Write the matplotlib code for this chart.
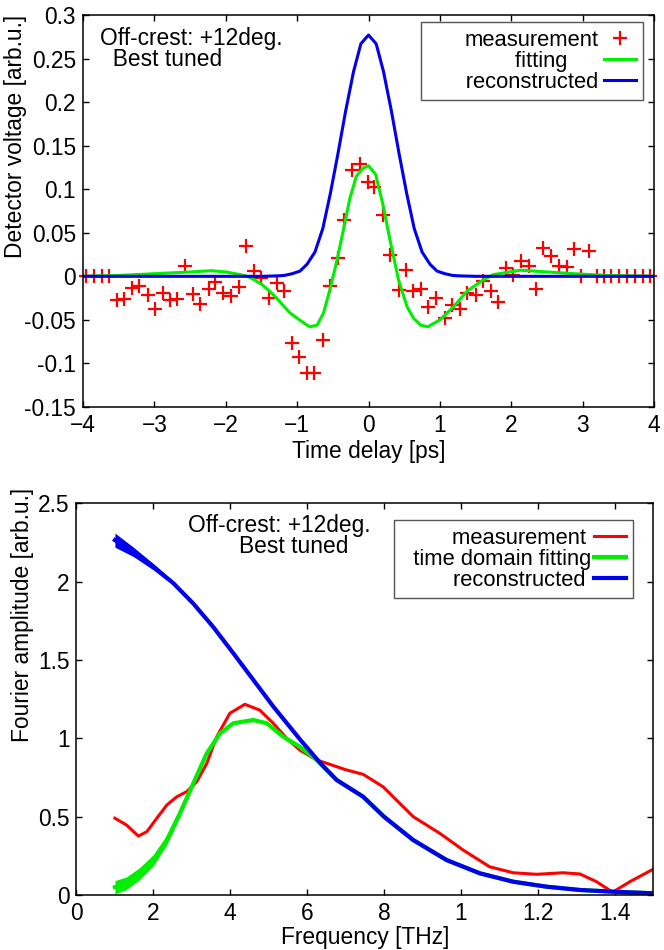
import numpy as np
import matplotlib
matplotlib.use("Agg")
import matplotlib.pyplot as plt

plt.rcParams['font.family'] = ['Liberation Sans', 'DejaVu Sans']
plt.rcParams['font.size'] = 16.4

# ---- top panel: time domain ----
t_meas = [-3.96, -3.85, -3.74, -3.63, -3.53, -3.43, -3.31, -3.21, -3.09, -2.99,
          -2.88, -2.78, -2.68, -2.57, -2.46, -2.36, -2.24, -2.15, -2.04, -1.93,
          -1.82, -1.71, -1.61, -1.51, -1.40, -1.28, -1.18, -1.07, -0.97, -0.86,
          -0.76, -0.64, -0.54, -0.43, -0.34, -0.23, -0.12, -0.01, 0.08, 0.20,
          0.30, 0.43, 0.53, 0.63, 0.73, 0.84, 0.95, 1.07, 1.17, 1.28,
          1.38, 1.50, 1.61, 1.71, 1.82, 1.92, 2.03, 2.14, 2.25, 2.35,
          2.45, 2.56, 2.67, 2.78, 2.88, 2.98, 3.09, 3.20, 3.30, 3.40,
          3.51, 3.62, 3.73, 3.84, 3.94]
v_meas = [0.0, 0.0, 0.0, 0.0, -0.027, -0.026, -0.0135, -0.011, -0.022, -0.037,
          -0.019, -0.027, -0.026, 0.012, -0.020, -0.032, -0.015, -0.006, -0.019, -0.023,
          -0.012, 0.035, 0.006, -0.002, -0.025, -0.008, -0.017, -0.077, -0.093, -0.111,
          -0.111, -0.073, -0.011, 0.021, 0.065, 0.122, 0.129, 0.108, 0.103, 0.070,
          0.024, -0.016, 0.007, -0.017, -0.015, -0.035, -0.025, -0.048, -0.033, -0.038,
          -0.019, -0.022, -0.005, -0.017, -0.030, 0.010, 0.002, 0.018, 0.012, -0.015,
          0.033, 0.023, 0.012, 0.011, 0.031, 0.0, 0.029, 0.0, 0.0, 0.0,
          0.0, 0.0, 0.0, 0.0, 0.0]

t_fit = [-4.0, -3.5, -3.0, -2.5, -2.2, -2.0, -1.8, -1.7, -1.6, -1.5, -1.4, -1.3,
         -1.2, -1.1, -1.0, -0.9, -0.82, -0.72, -0.63, -0.54, -0.44, -0.33, -0.26,
         -0.17, -0.08, 0.0, 0.1, 0.2, 0.3, 0.42, 0.54, 0.63, 0.73, 0.83, 1.0,
         1.19, 1.38, 1.61, 1.75, 2.13, 2.32, 2.88, 3.35, 4.0]
v_fit = [0.0, 0.001, 0.003, 0.005, 0.0065, 0.005, 0.002, 0.0, -0.004, -0.009, -0.016, -0.024,
         -0.033, -0.042, -0.048, -0.054, -0.058, -0.056, -0.042, -0.015, 0.019, 0.062, 0.090,
         0.115, 0.124, 0.127, 0.117, 0.083, 0.042, -0.004, -0.035, -0.048, -0.056, -0.058, -0.050,
         -0.035, -0.017, -0.004, 0.002, 0.007, 0.006, 0.003, 0.001, 0.0]

t_rec = [-4.0, -1.5, -1.28, -1.18, -1.07, -0.96, -0.86, -0.75, -0.64, -0.535, -0.43,
         -0.32, -0.21, -0.107, 0.0, 0.107, 0.21, 0.32, 0.43, 0.535, 0.64, 0.75,
         0.86, 0.96, 1.07, 1.18, 1.28, 1.5, 4.0]
v_rec = [0.0, 0.0, 0.0005, 0.001, 0.003, 0.006, 0.014, 0.028, 0.055, 0.095, 0.14,
         0.19, 0.235, 0.267, 0.277, 0.267, 0.235, 0.19, 0.14, 0.095, 0.055, 0.028,
         0.014, 0.006, 0.003, 0.001, 0.0005, 0.0, 0.0]

# ---- bottom panel: frequency domain ----
f_meas = [0.10, 0.13, 0.161, 0.183, 0.209, 0.235, 0.261, 0.287, 0.313, 0.339,
          0.365, 0.399, 0.438, 0.477, 0.512, 0.547, 0.581, 0.625, 0.677, 0.70,
          0.746, 0.798, 0.876, 0.945, 1.006, 1.075, 1.136, 1.197, 1.266, 1.31,
          1.353, 1.395, 1.44, 1.50]
a_meas = [0.49, 0.447, 0.376, 0.404, 0.49, 0.574, 0.627, 0.66, 0.723, 0.84,
          1.01, 1.16, 1.217, 1.18, 1.096, 1.0, 0.925, 0.862, 0.819, 0.80,
          0.77, 0.69, 0.50, 0.394, 0.287, 0.18, 0.142, 0.132, 0.142, 0.134,
          0.085, 0.018, 0.085, 0.164]

f_fit = [0.10, 0.13, 0.165, 0.20, 0.235, 0.269, 0.304, 0.339, 0.373, 0.408,
         0.46, 0.495, 0.538, 0.581, 0.625, 0.677, 0.746, 0.80, 0.876, 0.963,
         1.05, 1.136, 1.223, 1.31, 1.396, 1.5]
a_fit = [0.05, 0.075, 0.138, 0.223, 0.351, 0.521, 0.713, 0.904, 1.03, 1.096,
         1.117, 1.096, 1.01, 0.946, 0.862, 0.734, 0.627, 0.50, 0.351, 0.223,
         0.138, 0.085, 0.053, 0.032, 0.021, 0.011]
# jagged band at the low-frequency start of the fitting curve
hw_fit = [0.042, 0.04, 0.038, 0.035, 0.03, 0.022, 0.015, 0.0]

f_rec = [0.10, 0.148, 0.20, 0.252, 0.304, 0.356, 0.409, 0.461, 0.513, 0.583,
         0.635, 0.677, 0.746, 0.80, 0.876, 0.963, 1.05, 1.136, 1.223, 1.31,
         1.396, 1.5]
a_rec = [2.265, 2.19, 2.095, 1.99, 1.86, 1.71, 1.54, 1.37, 1.20, 0.989,
         0.84, 0.734, 0.627, 0.50, 0.351, 0.223, 0.138, 0.085, 0.053, 0.032,
         0.021, 0.011]
hw_rec = [0.045, 0.03, 0.02, 0.012, 0.0]

x2_ticks = [0, 0.2, 0.4, 0.6, 0.8, 1.0, 1.2, 1.4]
x2_labels = ["0", "2", "4", "6", "8", "1", "1.2", "1.4"]

RED = "#ff0000"
GREEN = "#00ee00"
BLUE = "#0000ee"

fig = plt.figure(figsize=(6.64, 9.5), dpi=100)
ax1 = fig.add_axes([0.125, 0.5716, 0.86, 0.4126])
ax2 = fig.add_axes([0.1152, 0.0579, 0.8682, 0.4123])

# top
ax1.plot(t_meas, v_meas, linestyle="none", marker="+", color=RED,
         markersize=10, markeredgewidth=1.6, label="measurement", clip_on=False)
ax1.plot(t_fit, v_fit, color=GREEN, lw=2.2, label="fitting     ")
ax1.plot(t_rec, v_rec, color=BLUE, lw=2.2, label="      reconstructed")
ax1.set_xlim(-4, 4)
ax1.set_ylim(-0.15, 0.3)
ax1.set_xticks(np.arange(-4, 5, 1))
ax1.set_yticks([-0.15, -0.1, -0.05, 0, 0.05, 0.1, 0.15, 0.2, 0.25, 0.3])
ax1.set_yticklabels(["-0.15", "-0.1", "-0.05", "0", "0.05", "0.1", "0.15", "0.2", "0.25", "0.3"])
ax1.set_xlabel("Time delay [ps]")
ax1.set_ylabel("Detector voltage [arb.u.]")
ax1.xaxis.set_label_coords(0.5, -0.085)
ax1.yaxis.set_label_coords(-0.098, 0.69)
# multi-line text: baseline alignment uses the last line
ax1.text(0.03, 0.870, "Off-crest: +12deg.\n  Best tuned", transform=ax1.transAxes,
         va="baseline", linespacing=0.88)

# bottom
ax2.plot(f_meas, a_meas, color=RED, lw=2.2, label="measurement ")
n = len(hw_fit)
ax2.fill_between(f_fit[:n], np.array(a_fit[:n]) - hw_fit, np.array(a_fit[:n]) + hw_fit,
                 color=GREEN, lw=0)
ax2.plot(f_fit, a_fit, color=GREEN, lw=3, label="  time domain fitting")
m = len(hw_rec)
ax2.fill_between(f_rec[:m], np.array(a_rec[:m]) - hw_rec, np.array(a_rec[:m]) + hw_rec,
                 color=BLUE, lw=0)
ax2.plot(f_rec, a_rec, color=BLUE, lw=3, label="reconstructed ")
ax2.set_xlim(0, 1.5)
ax2.set_ylim(0, 2.5)
ax2.set_xticks(x2_ticks)
ax2.set_xticklabels(x2_labels)
ax2.set_yticks([0, 0.5, 1, 1.5, 2, 2.5])
ax2.set_yticklabels(["0", "0.5", "1", "1.5", "2", "2.5"])
ax2.set_xlabel("Frequency [THz]")
ax2.set_ylabel("Fourier amplitude [arb.u.]")
ax2.xaxis.set_label_coords(0.5, -0.08)
ax2.yaxis.set_label_coords(-0.074, 0.715)
ax2.text(0.1934, 0.8723, "Off-crest: +12deg.\n        Best tuned", transform=ax2.transAxes,
         va="baseline", linespacing=0.88)

for ax in (ax1, ax2):
    ax.tick_params(direction="in", top=True, right=True, length=4.5, width=1, pad=5)
    for s in ax.spines.values():
        s.set_linewidth(1.1)


def style_legend(leg):
    fr = leg.get_frame()
    fr.set_edgecolor("#555555")
    fr.set_linewidth(1.0)
    # gnuplot style: labels right-justified against the samples
    for col in leg._legend_handle_box.get_children():
        col.align = "right"


leg1 = ax1.legend(loc="upper right", bbox_to_anchor=(0.981, 0.982), borderaxespad=0,
                  markerfirst=False, numpoints=1, handlelength=1.45, handletextpad=0.25,
                  borderpad=0.35, labelspacing=0.0, fancybox=False, framealpha=1,
                  fontsize=15.8)
leg2 = ax2.legend(loc="upper right", bbox_to_anchor=(0.966, 0.9574), borderaxespad=0,
                  markerfirst=False, handlelength=1.45, handletextpad=0.1,
                  borderpad=0.35, labelspacing=0.0, fancybox=False, framealpha=1,
                  fontsize=15.8)
style_legend(leg1)
style_legend(leg2)

fig.savefig("out.png", dpi=100)
